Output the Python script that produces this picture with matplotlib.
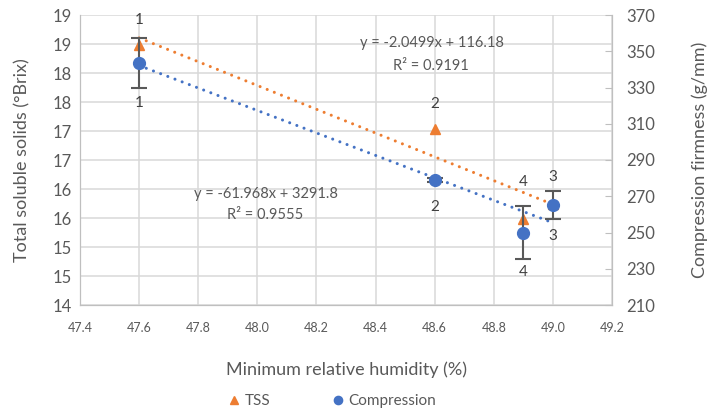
import numpy as np
import matplotlib
matplotlib.use('Agg')
import matplotlib.pyplot as plt
from matplotlib.ticker import FuncFormatter, MultipleLocator, FixedLocator

plt.rcParams['font.family'] = ['Lato', 'DejaVu Sans']

# data
humidity = [47.6, 48.6, 48.9, 49.0]
tss = [18.48, 17.04, 15.48, 15.74]
compression = [343.5, 278.8, 250.0, 265.0]
compression_err = [14.0, 1.0, 14.5, 7.8]
point_labels = ['1', '2', '4', '3']

# trendline coefficients as printed on the chart
tss_fit = (-2.0499, 116.18, 0.9191)
comp_fit = (-61.968, 3291.8, 0.9555)

orange = '#ED7D31'
blue = '#4472C4'
grey_txt = '#595959'
grid_c = '#D9D9D9'

fig = plt.figure(figsize=(7.18, 4.13), dpi=100)
ax = fig.add_axes([80/718, 1-305/413, 532/718, 290/413])
ax2 = ax.twinx()

ax.set_xlim(47.4, 49.2)
ax.set_ylim(14, 19)
ax2.set_ylim(210, 370)

ax.xaxis.set_major_locator(MultipleLocator(0.2))
ax.yaxis.set_major_locator(MultipleLocator(0.5))
ax2.yaxis.set_major_locator(FixedLocator(np.arange(210, 371, 20)))
ax.xaxis.set_major_formatter(FuncFormatter(lambda v, p: f'{v:.1f}'))
ax.yaxis.set_major_formatter(FuncFormatter(lambda v, p: f'{int(np.floor(v + 0.5))}'))

ax.grid(True, color=grid_c, lw=1.1)
ax.set_axisbelow(True)

for sp in ['top']:
    ax.spines[sp].set_visible(False)
    ax2.spines[sp].set_visible(False)
for sp in ['left', 'bottom', 'right']:
    ax.spines[sp].set_color('#BFBFBF')
    ax2.spines[sp].set_color('#BFBFBF')

ax.tick_params(axis='x', length=0, labelsize=9, labelcolor=grey_txt, pad=12)
ax.tick_params(axis='y', length=0, labelsize=12, labelcolor=grey_txt, pad=6)
ax2.tick_params(axis='y', direction='in', length=5, color='#BFBFBF',
                labelsize=12, labelcolor=grey_txt, pad=10)

# trendlines
xs = np.array([humidity[0], humidity[-1]])
ax.plot(xs, tss_fit[0]*xs + tss_fit[1], color=orange, lw=2.2,
        linestyle=(0, (0.01, 2.5)), dash_capstyle='round', zorder=2)

ax.plot(humidity, tss, linestyle='none', marker='^', ms=7.5, color=orange,
        zorder=3, label='TSS')

ax2.plot(xs, comp_fit[0]*xs + comp_fit[1], color=blue, lw=2.2,
         linestyle=(0, (0.01, 2.5)), dash_capstyle='round', zorder=2)
ax2.errorbar(humidity, compression, yerr=compression_err, fmt='none',
             ecolor=grey_txt, elinewidth=1.5, capsize=6, capthick=1.5, zorder=3)
ax2.plot(humidity, compression, linestyle='none', marker='o', ms=8.5,
         color=blue, zorder=4, label='Compression')

# data labels
top_off = [-25, -25, -37, -27]
bot_off = [40, 27, 40, 31]
for x, y, t, o in zip(humidity, tss, point_labels, top_off):
    ax.annotate(t, (x, y), xytext=(0, -o), textcoords='offset pixels',
                ha='center', va='center', fontsize=11, color='#404040')
for x, y, t, o in zip(humidity, compression, point_labels, bot_off):
    ax2.annotate(t, (x, y), xytext=(0, -o), textcoords='offset pixels',
                 ha='center', va='center', fontsize=11, color='#404040')

# equations
fig.text(432/718, 1-43/413, f'y = {tss_fit[0]}x + {tss_fit[1]}',
         ha='center', va='center', fontsize=10.5, color=grey_txt)
fig.text(431/718, 1-66/413, f'R² = {tss_fit[2]}',
         ha='center', va='center', fontsize=10.5, color=grey_txt)
fig.text(266/718, 1-194/413, f'y = {comp_fit[0]}x + {comp_fit[1]}',
         ha='center', va='center', fontsize=10.5, color=grey_txt)
fig.text(265/718, 1-215/413, f'R² = {comp_fit[2]}',
         ha='center', va='center', fontsize=10.5, color=grey_txt)

# axis titles
fig.text(346/718, 1-370/413, 'Minimum relative humidity (%)',
         ha='center', va='center', fontsize=13, color=grey_txt)
fig.text(22/718, 1-160/413, 'Total soluble solids (°Brix)', rotation=90,
         ha='center', va='center', fontsize=13, color=grey_txt)
fig.text(700/718, 1-160/413, 'Compression firmness (g/mm)', rotation=90,
         ha='center', va='center', fontsize=13, color=grey_txt)

h1, l1 = ax.get_legend_handles_labels()
h2, l2 = ax2.get_legend_handles_labels()
fig.legend(h1 + h2, l1 + l2, loc='center', bbox_to_anchor=(332/718, 1-401/413),
           ncol=2, frameon=False, fontsize=11, labelcolor=grey_txt,
           markerscale=0.7, handlelength=0.8, handletextpad=0.3, columnspacing=4)

fig.savefig('out.png', dpi=100)
